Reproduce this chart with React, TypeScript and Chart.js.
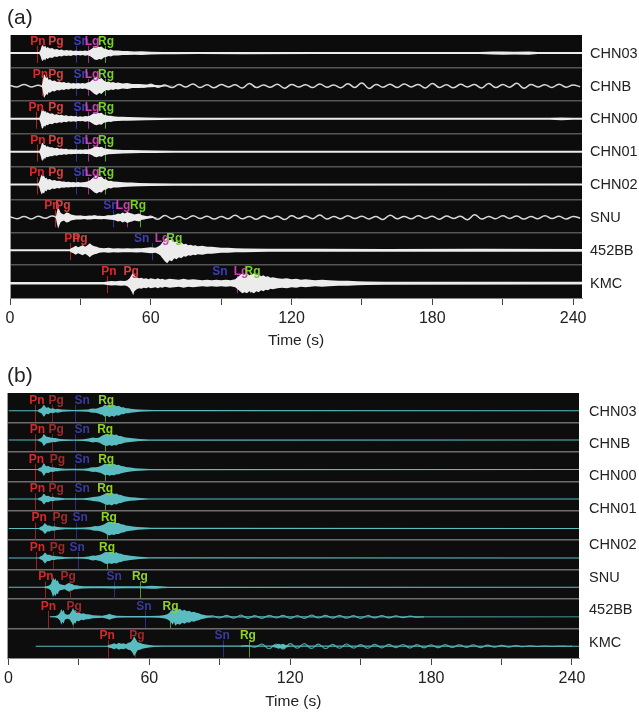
import React, { useEffect, useRef } from 'react';
import { Chart, registerables } from 'chart.js';

Chart.register(...registerables);

type Pair = [number, number];
type Phase = [string, number, number | null];

// ---------- labels & ticks ----------
const STATIONS_A = ['CHN03', 'CHNB', 'CHN00', 'CHN01', 'CHN02', 'SNU', '452BB', 'KMC'];
const STATIONS_B = ['CHN03', 'CHNB', 'CHN00', 'CHN01', 'CHN02', 'SNU', '452BB', 'KMC'];
const LABEL_ROWS_A = [0.57, 1.57, 2.57, 3.57, 4.57, 5.57, 6.57, 7.57];
const LABEL_ROWS_B = [0.65, 1.73, 2.82, 3.95, 5.17, 6.29, 7.38, 8.5];
const TIME_TICKS = [0, 30, 60, 90, 120, 150, 180, 210, 240];
const TIME_LABELS = [0, 60, 120, 180, 240];

// ---------- panel (a): amplitude envelopes [time s, half-amplitude px] ----------
const A_CHN03: Pair[] = [[0,1],[12.5,1],[13,3],[13.5,7],[14,8],[14.5,6],[15,7.5],[15.5,5],[16,6],[17,4.5],[18,5],[19,3.5],[20,4],[21,3],[22,3.5],[23,2.5],[24,3],[25,2.5],[26,2.8],[27,2],[28,2.5],[29,2],[30,2.4],[31,2],[32,2.6],[33,2.2],[34,3],[35,4.5],[36,6.5],[37,7],[38,6],[39,6.5],[40,4.5],[41,4],[42,3],[43,3.5],[44,2.5],[46,2.5],[48,2],[50,2],[53,1.6],[56,1.8],[60,1.4],[65,1.2],[70,1.2],[80,1],[100,1.1],[130,1],[160,1],[200,1],[206,1.5],[210,1.7],[215,1.4],[221,1.6],[225,1],[244,1]];
const A_CHNB: Pair[] = [[0,0],[13.5,0],[14,5],[14.5,12],[15,10],[15.5,8],[16,9],[16.5,6],[17,7],[18,5],[19,5.5],[20,4],[21,4.5],[22,3.5],[23,4],[24,3],[25,3.5],[26,2.5],[27,3],[28,2.5],[29,3],[30,2.5],[31,3],[32,2.5],[33,3.5],[34,4],[35,6],[36,8],[37,9],[38,7],[39,8],[40,5.5],[41,4],[42,4.5],[43,3.5],[44,4],[45,3],[46,3.5],[48,2.5],[50,3],[52,2],[55,2],[58,1.5],[62,1],[66,0.5],[70,0],[244,0]];
const A_CHN00: Pair[] = [[0,1],[12.5,1],[13,4],[13.5,9],[14,10],[14.5,7],[15,8],[15.5,6],[16,6.5],[17,5],[18,5.5],[19,4],[20,4.5],[21,3.5],[22,4],[23,3],[24,3.5],[25,2.5],[26,3],[27,2.5],[28,2.8],[29,2.2],[30,2.5],[31,2.2],[32,2.8],[33,2.5],[34,3],[35,4.5],[36,6],[37,6.5],[38,5.5],[39,6],[40,4],[41,3.5],[42,3],[43,3.2],[44,2.5],[46,2.2],[48,2],[50,1.8],[54,1.6],[58,1.4],[64,1.2],[70,1],[230,1],[235,1.3],[240,1],[244,1]];
const A_CHN01: Pair[] = [[0,1],[12.5,1],[13,3.5],[13.5,8],[14,9],[14.5,6.5],[15,7],[15.5,5],[16,5.5],[17,4.5],[18,4.5],[19,3.5],[20,4],[21,3],[22,3.2],[23,2.6],[24,3],[25,2.2],[26,2.5],[27,2.2],[28,2.4],[29,2],[30,2.2],[31,2],[32,2.4],[33,2.2],[34,2.6],[35,3.5],[36,5],[37,5.5],[38,4.5],[39,5],[40,3.5],[41,3],[42,2.6],[44,2.2],[46,2],[48,1.8],[52,1.6],[56,1.4],[62,1.2],[70,1],[244,1]];
const A_CHN02: Pair[] = [[0,1],[12,1],[12.5,3],[13,7],[13.5,10],[14,8],[14.5,9],[15,6],[15.5,7],[16,5],[17,5.5],[18,4],[19,4.5],[20,3.5],[21,3.8],[22,3],[23,3.2],[24,2.6],[25,2.8],[26,2.4],[27,2.6],[28,2.2],[29,2.5],[30,2.2],[31,2.4],[32,2.6],[33,3],[34,4],[35,6],[36,8],[37,9],[38,7.5],[39,8],[40,5.5],[41,5],[42,3.5],[43,3.8],[44,3],[46,2.8],[48,2.4],[50,2.2],[52,2],[55,1.6],[60,1.3],[70,1.1],[244,1]];
const A_SNU: Pair[] = [[0,0],[19.5,0],[20,6],[20.5,11],[21,8],[21.5,5],[22,4],[23,3],[24,5],[25,4.5],[26,3],[27,2.5],[28,2],[30,2],[32,1.5],[34,2],[36,1.5],[38,1.8],[40,1.5],[42,2],[44,2.5],[45,3],[46,4],[47,3.5],[48,5],[49,4],[50,5.5],[51,4.5],[52,4],[53,3],[54,3.5],[55,4],[56,2.5],[57,2],[58,1.5],[60,0.8],[63,0],[244,0]];
const A_452BB: Pair[] = [[0,1],[25.5,1],[26,2],[27,3],[28,4.5],[29,3],[30,4],[31,5],[32,3.5],[33,5],[34,7],[35,5],[36,4],[37,3.5],[38,2.5],[40,2],[42,2.5],[44,1.8],[46,2.2],[48,1.8],[50,2],[52,1.8],[54,2.2],[56,2],[58,2.5],[60,3],[62,2.5],[63,3.5],[64,5],[65,8],[66,11],[67,13],[68,10],[69,11],[70,8],[71,9],[72,7],[73,8],[74,6],[75,6.5],[76,5],[77,5.5],[78,4.5],[79,5],[80,4],[82,4.5],[84,3.5],[86,3.5],[88,3],[90,2.5],[93,2.5],[96,2],[100,1.8],[110,1.5],[130,1.5],[160,1.4],[200,1.5],[244,1.4]];
const A_KMC: Pair[] = [[0,1.3],[40,1.3],[41.5,1.8],[43,2.2],[45,2],[47,2.5],[49,2.2],[50,3],[51,5],[52,9],[52.5,12],[53,8],[54,6],[55,5],[56,5.5],[57,4.5],[58,5],[59,4],[60,5],[61,4.5],[62,4],[63,5],[64,4],[65,4.5],[66,3.5],[68,4.5],[70,4],[72,3.5],[74,4.5],[76,3.5],[78,4],[80,3.5],[82,3],[84,3.5],[86,3],[88,3.5],[90,3],[92,3.5],[94,3],[96,4],[97,6],[98,8],[99,10],[100,9],[101,10],[102,8],[103,9],[104,10],[105,8],[106,9],[107,7],[108,8],[109,6.5],[110,7],[111,5.5],[112,6],[114,5],[116,4.5],[118,5],[120,4],[122,4.5],[124,3.5],[126,4],[128,3.5],[130,3],[133,3.5],[136,3],[140,2.5],[144,2.5],[148,2],[152,1.7],[160,1.5],[244,1.4]];

// long-period background wiggle (px, up positive), sampled every 3 s from t = 0
const A_CHNB_WIG = [0.5,-1,1.5,-1,0.8,-1.5,1,-0.5,1.2,-1,1,-1.5,1.2,-1,1.5,-1.2,1,-1.5,1.3,-1,1.8,-1.2,1,-1.6,1.4,-1,2,-1.5,1.2,-1.8,1.5,-1,1.2,-2,2.5,-1.5,1,-1.2,1.8,-2.2,1.5,-1,1.3,-1.6,2,-1.2,1,-1.8,2.2,-1.5,3,-2.5,1.5,-1.2,1.8,-1.5,2,-1,1.5,-2,2.5,-1.5,1.2,-1.8,1.6,-1,1.4,-2,2.4,-1.6,1.5,-1.2,2.6,-2.2,1.4,-1,1.2,-1.5,1.8,-1.2,1,-0.8];
const A_SNU_WIG = [0.8,-1.2,1,-1.5,1.2,-0.8,1.5,-1,1.2,-1.5,1,-1.2,1.8,-1,1.4,-1.6,1,-1.3,1.6,-1,1.2,-1.8,2,-1.2,1,-1.5,1.8,-1,1.3,-1.6,1,-1.2,2.2,-1.4,1,-1.8,1.5,-1,1.2,-2,1.6,-1,1.4,-1.2,2.4,-1.6,1,-1.3,1.8,-1.1,1.2,-1.5,1,-2,2.2,-1.2,1,-1.4,1.6,-1,1.3,-1.8,1.5,-1,1.2,-2.2,2.6,-1.5,1,-1.2,1.6,-1,1.4,-1.6,1,-1.3,1.8,-1,1.2,-1.5,1,-0.8];

// phase picks: [phase, label time, pick-line time]
const PHASES_A: Phase[][] = [
  [['Pn',11.9,11.4],['Pg',19.6,null],['Sn',30.3,28.1],['Lg',35,33.2],['Rg',40.9,40.5]],
  [['Pn',13,13.6],['Pg',19.6,null],['Sn',30.3,28.1],['Lg',35,33.2],['Rg',40.9,40.5]],
  [['Pn',11.1,11.2],['Pg',19.6,null],['Sn',30.3,28.1],['Lg',35,33.2],['Rg',40.9,40.5]],
  [['Pn',11.9,11.4],['Pg',19.6,null],['Sn',30.3,28.1],['Lg',35,33.2],['Rg',40.9,40.5]],
  [['Pn',11.5,11.4],['Pg',19.6,null],['Sn',30.3,28.1],['Lg',35,33.2],['Rg',40.9,40.5]],
  [['Pn',17.9,19.2],['Pg',22.6,null],['Sn',43,44],['Lg',48.2,50],['Rg',54.6,55.4]],
  [['Pn',26.4,25.6],['Pg',29.8,null],['Sn',56.1,60.4],['Lg',64.8,66.3],['Rg',70,69]],
  [['Pn',42.2,41.3],['Pg',51.6,52.5],['Sn',89.5,null],['Lg',98.5,96.9],['Rg',103.4,102.3]],
];

// ---------- panel (b): envelopes ----------
const B_R0: Pair[] = [[0,0.5],[12.5,0.5],[13,1.5],[14,2.5],[14.5,4],[15,6],[15.5,5],[16,3],[17,3.5],[18,2],[19,2.5],[20,1.5],[21,2],[22,1.5],[23,1.2],[25,0.8],[28,0.7],[31,0.8],[34,1.2],[35,1.8],[36,2.2],[37,2],[38,2.5],[39,3.5],[40,4],[41,6],[42,5],[43,6.5],[44,5],[45,6],[46,4.5],[47,5],[48,3.5],[49,3.5],[50,2.5],[51,2.5],[52,2],[54,1.5],[56,1.2],[58,0.8],[62,0.6],[244,0.5]];
const B_R1: Pair[] = [[0,0.5],[12.5,0.5],[13,1.2],[14,2],[14.5,3.5],[15,6],[15.5,5],[16,3.5],[17,3],[18,2.5],[19,2],[20,2.2],[21,1.5],[22,1.2],[24,0.8],[28,0.7],[32,0.8],[34,1.5],[35,2],[36,2.5],[37,2],[38,2.2],[39,3],[40,4.5],[41,5.5],[42,6],[43,5],[44,6],[45,5],[46,5.5],[47,4],[48,4],[49,3],[50,2.5],[52,2],[54,1.5],[56,1],[60,0.6],[244,0.5]];
const B_R2: Pair[] = [[0,0.5],[12.5,0.5],[13,1.5],[14,2.2],[14.5,4],[15,6.5],[15.5,5],[16,3.2],[17,3.5],[18,2.2],[19,2.4],[20,1.8],[21,1.6],[22,1.3],[24,0.9],[28,0.7],[32,0.9],[34,1.4],[35,2],[36,2.4],[37,2.2],[38,2.6],[39,3.2],[40,4.2],[41,5.8],[42,5.2],[43,6.2],[44,5.4],[45,5.8],[46,4.6],[47,4.8],[48,3.6],[49,3.2],[50,2.6],[52,2],[54,1.4],[56,1.1],[60,0.6],[244,0.5]];
const B_R3: Pair[] = [[0,0.5],[12.5,0.5],[13,1.2],[14,2],[14.5,3.5],[15,5.5],[15.5,4.5],[16,3],[17,3.2],[18,2],[19,2.2],[20,1.6],[21,1.5],[22,1.2],[24,0.8],[28,0.7],[32,0.8],[34,1.2],[35,1.6],[36,2],[37,2.2],[38,2.4],[39,3],[40,4],[41,5],[42,6],[43,5.5],[44,6.5],[45,5],[46,5.5],[47,4.2],[48,4],[49,3],[50,2.6],[52,1.8],[54,1.4],[56,1],[60,0.6],[244,0.5]];
const B_R4: Pair[] = [[0,0.5],[13,0.5],[13.5,1.5],[14.5,2.5],[15,4],[15.5,5.5],[16,4.5],[16.5,3],[17.5,3],[18.5,2],[19.5,2.2],[20.5,1.6],[22,1.3],[24,0.9],[28,0.7],[32,0.9],[35,1.4],[36,2],[37,2.4],[38,2.2],[39,2.8],[40,3.5],[41,4.5],[42,6],[43,7],[44,6],[45,6.5],[46,5.5],[47,5.5],[48,4.2],[49,4],[50,3],[51,2.6],[53,2],[55,1.4],[57,1.1],[61,0.6],[244,0.5]];
const B_R5: Pair[] = [[0,0.5],[13,0.5],[13.5,1.4],[14.5,2.4],[15,4],[15.5,5.5],[16,4.5],[16.5,3.2],[17.5,3.2],[18.5,2.2],[19.5,2],[20.5,1.7],[22,1.3],[24,0.9],[28,0.7],[32,0.9],[34,1.4],[35,2],[36,2.5],[37,2.2],[38,2.6],[39,3.2],[40,4.2],[41,5.6],[42,6],[43,5.4],[44,6.2],[45,5.2],[46,5.6],[47,4.4],[48,4.2],[49,3.2],[50,2.8],[52,2.2],[54,1.6],[56,1.2],[60,0.6],[244,0.5]];
const B_SNU: Pair[] = [[0,0.5],[15,0.5],[16,1],[17,1.5],[18,3],[18.5,6],[19,10],[19.5,7],[20,9],[20.5,6],[21,7],[21.5,4],[22,3],[23,2.5],[24,2],[25,3.5],[26,4.5],[26.5,3],[27,3.5],[28,2],[29,2],[30,1.5],[32,1.2],[35,1],[40,1],[45,1.2],[50,1],[55,1],[58,1.2],[61,1.5],[63,1.3],[65,1],[68,0.6],[244,0.5]];
const B_452BB: Pair[] = [[17.5,0.5],[20,0.8],[21,1.5],[22,4],[22.5,8],[23,5],[23.5,7],[24,3],[25,2],[26,2.5],[27,6],[27.5,9],[28,6],[28.5,7],[29,4],[30,4.5],[31,3],[32,3.5],[33,2.5],[34,2.5],[35,2],[36,1.5],[38,1.2],[40,1],[42,2],[43,3],[44,2],[46,1],[50,0.8],[55,0.8],[60,0.8],[64,1],[66,1.5],[67,2],[68,3],[69,5],[70,8],[70.5,5],[71,9],[72,7],[73,8],[74,6],[75,7],[76,5.5],[77,6],[78,4.5],[79,5],[80,4],[81,3.5],[82,2.5],[83,2],[85,1],[87,0.6],[244,0.4]];
const B_KMC: Pair[] = [[11.5,0.5],[42,0.5],[43,1.5],[44,2],[45,3],[46,2],[47,3.5],[48,2.5],[49,3],[50,2],[51,3.5],[52,4],[53,7],[53.5,10],[54,8],[54.5,6],[55,4],[56,3.5],[57,2.5],[58,2],[60,1.2],[62,0.8],[66,0.6],[112,0.6],[114,1.5],[115,2.5],[116,1.8],[117,2.5],[118,1.2],[120,0.6],[244,0.5]];

const B_452BB_WIG = [0,1,-1.2,1.5,-1.3,1.6,-1.5,1.2,-1.6,1.5,-1.2,1.4,-1.6,1.3,-1.5,1.6,-1.2,1.4,-1.3,1.5,-1.4,1.2,-1.5,1.3,-1.1,1.2,-1,0.9,-0.8,0.6,-0.4,0];
const B_KMC_WIG = [0,0.5,-1,2,-2.5,2.2,-2.8,2.5,-2,2.6,-2.2,2,-2.5,1.8,-2,2.2,-1.8,1.6,-2,1.8,-1.6,1.8,-1.5,1.7,-1.8,1.5,-1.6,1.4,-1.5,1.6,-1.3,1.4,-1.2,1.3,-1.4,1.1,-1,0.9,-0.8,0.6,-0.5,0.4,-0.3,0.2,-0.2,0.1,0,0];

const PHASES_B: Phase[][] = [
  [['Pn',12.1,11.5],['Pg',20.3,18.7],['Sn',31.4,28.4],['Rg',41.6,41.2]],
  [['Pn',12.3,11.5],['Pg',20.3,18.7],['Sn',31.4,28.4],['Rg',41.2,41.2]],
  [['Pn',11.9,11.5],['Pg',20.8,18.7],['Sn',31.4,28.4],['Rg',41.6,41.2]],
  [['Pn',12.3,11.5],['Pg',20.3,18.7],['Sn',31.4,28.4],['Rg',41.2,41.2]],
  [['Pn',13.1,11.5],['Pg',22,19.5],['Sn',30.5,28.8],['Rg',42.8,42]],
  [['Pn',12.3,11.8],['Pg',20.8,19],['Sn',29.3,29.7],['Rg',42,42]],
  [['Pn',16,15.7],['Pg',25.4,26],['Sn',45,45],['Rg',56,56]],
  [['Pn',17,17],['Pg',28,27.5],['Sn',57.7,58],['Rg',69,69]],
  [['Pn',42,42.4],['Pg',54.7,54],['Sn',91,91.5],['Rg',102,102.6]],
];

const SANS = '"Liberation Sans", Arial, sans-serif';

interface Wig { row: number; t0: number; step: number; v: number[] }
interface PanelCfg {
  env: Pair[][];
  wig: Wig[];
  phases: Phase[][];
  labels: string[];
  labelRows: number[];
  rows: number;
  rowPx: number;
  traceOffset: number;
  xMin: number;
  xMax: number;
  padLeft: number;
  padTop: number;
  rightW: number;
  labelPad: number;
  xAxisH: number;
  tickPad: number;
  titlePadBottom: number;
  fill: string;
  wigColor: string;
  wigWidth: number;
  sep: string;
  bg: string;
  textColors: Record<string, string>;
  pickColors: Record<string, string>;
  phaseFont: string;
  labelLevel: number;
  pickTop: number;
  pickBottom: number;
  panel: string;
  panelY: number;
}

function makeChart(canvas: HTMLCanvasElement, c: PanelCfg) {
  const datasets: any[] = [];
  c.env.forEach((env, row) => {
    const base = row + 0.5 + c.traceOffset;
    datasets.push({
      data: env.map(([t, a]) => ({ x: t, y: base - a / c.rowPx })),
      borderColor: 'rgba(0,0,0,0)', backgroundColor: c.fill, borderWidth: 0,
      pointRadius: 0, fill: false, tension: 0,
    });
    datasets.push({
      data: env.map(([t, a]) => ({ x: t, y: base + a / c.rowPx })),
      borderColor: 'rgba(0,0,0,0)', backgroundColor: c.fill, borderWidth: 0,
      pointRadius: 0, fill: '-1', tension: 0,
    });
  });
  c.wig.forEach((w) => {
    const base = w.row + 0.5 + c.traceOffset;
    datasets.push({
      data: w.v.map((v, i) => ({ x: w.t0 + i * w.step, y: base - v / c.rowPx })),
      borderColor: c.wigColor, borderWidth: c.wigWidth, pointRadius: 0,
      fill: false, tension: 0.45,
    });
  });

  const plugin = {
    id: 'seis' + c.panel,
    beforeDraw(chart: any) {
      const { ctx, chartArea: a } = chart;
      ctx.save();
      ctx.fillStyle = c.bg;
      ctx.fillRect(a.left, a.top, a.right - a.left, a.bottom - a.top);
      ctx.restore();
    },
    beforeDatasetsDraw(chart: any) {
      const { ctx, chartArea: a } = chart;
      const xs = chart.scales.x, ys = chart.scales.y;
      ctx.save();
      ctx.beginPath();
      ctx.rect(a.left, a.top, a.right - a.left, a.bottom - a.top);
      ctx.clip();
      ctx.lineWidth = 1;
      c.phases.forEach((row, r) => {
        row.forEach(([ph, , pt]) => {
          if (pt === null) return;
          const x = Math.round(xs.getPixelForValue(pt)) + 0.5;
          ctx.strokeStyle = c.pickColors[ph];
          ctx.beginPath();
          ctx.moveTo(x, ys.getPixelForValue(r + c.pickTop));
          ctx.lineTo(x, ys.getPixelForValue(Math.min(r + c.pickBottom, c.rows)));
          ctx.stroke();
        });
      });
      ctx.restore();
    },
    afterDatasetsDraw(chart: any) {
      const { ctx } = chart;
      const xs = chart.scales.x, ys = chart.scales.y;
      ctx.save();
      ctx.font = c.phaseFont;
      ctx.textAlign = 'center';
      ctx.textBaseline = 'middle';
      c.phases.forEach((row, r) => {
        row.forEach(([ph, lt]) => {
          ctx.fillStyle = c.textColors[ph];
          ctx.fillText(ph, xs.getPixelForValue(lt), ys.getPixelForValue(r + c.labelLevel));
        });
      });
      ctx.restore();
    },
    afterDraw(chart: any) {
      const { ctx } = chart;
      ctx.save();
      ctx.font = '21px ' + SANS;
      ctx.fillStyle = '#222';
      ctx.textAlign = 'left';
      ctx.textBaseline = 'middle';
      ctx.fillText(c.panel, 7, c.panelY);
      ctx.restore();
    },
  };

  const rowsTicks = Array.from({ length: c.rows + 1 }, (_, i) => i);

  return new Chart(canvas, {
    type: 'line',
    data: { datasets },
    plugins: [plugin],
    options: {
      responsive: false,
      maintainAspectRatio: false,
      animation: false,
      events: [],
      layout: { padding: { left: c.padLeft, top: c.padTop, right: 0, bottom: 0 } },
      plugins: { legend: { display: false }, tooltip: { enabled: false }, title: { display: false } },
      scales: {
        x: {
          type: 'linear',
          min: c.xMin,
          max: c.xMax,
          afterBuildTicks: (s: any) => { s.ticks = TIME_TICKS.map((v) => ({ value: v })); },
          afterFit: (s: any) => { s.height = c.xAxisH; },
          ticks: {
            autoSkip: false, maxRotation: 0, minRotation: 0, padding: c.tickPad,
            color: '#222', font: { family: SANS, size: 16 },
            callback: (v: any) => (TIME_LABELS.includes(Number(v)) ? String(v) : ''),
          },
          grid: { drawOnChartArea: false, drawTicks: true, tickLength: 7, color: '#444', lineWidth: 1 },
          border: { display: true, color: '#888', width: 1 },
          title: {
            display: true, text: 'Time (s)', color: '#222',
            font: { family: SANS, size: 15.5 },
            padding: { top: 0, bottom: c.titlePadBottom },
          },
        },
        y: {
          type: 'linear',
          position: 'left',
          min: 0,
          max: c.rows,
          reverse: true,
          afterBuildTicks: (s: any) => { s.ticks = rowsTicks.map((v) => ({ value: v })); },
          afterFit: (s: any) => { s.width = 0; },
          ticks: { display: false },
          grid: {
            drawTicks: false,
            lineWidth: 1.5,
            color: (ctx: any) => {
              const v = ctx.tick ? ctx.tick.value : 0;
              return v > 0 && v < c.rows ? c.sep : 'rgba(0,0,0,0)';
            },
          },
          border: { display: true, color: '#9a9a9a', width: 1 },
        },
        yLab: {
          type: 'linear',
          position: 'right',
          min: 0,
          max: c.rows,
          reverse: true,
          afterBuildTicks: (s: any) => { s.ticks = c.labelRows.map((v) => ({ value: v })); },
          afterFit: (s: any) => { s.width = c.rightW; },
          ticks: {
            autoSkip: false, padding: c.labelPad, color: '#222',
            font: { family: SANS, size: 14.5 },
            callback: (_v: any, i: number) => c.labels[i],
          },
          grid: { display: false, drawTicks: false },
          border: { display: false },
        },
      },
    } as any,
  });
}

const CFG_A: PanelCfg = {
  env: [A_CHN03, A_CHNB, A_CHN00, A_CHN01, A_CHN02, A_SNU, A_452BB, A_KMC],
  wig: [
    { row: 1, t0: 0, step: 3, v: A_CHNB_WIG },
    { row: 5, t0: 0, step: 3, v: A_SNU_WIG },
  ],
  phases: PHASES_A,
  labels: STATIONS_A,
  labelRows: LABEL_ROWS_A,
  rows: 8,
  rowPx: 32.9,
  traceOffset: 0.05,
  xMin: 0,
  xMax: 243.8,
  padLeft: 10,
  padTop: 35,
  rightW: 57,
  labelPad: 8,
  xAxisH: 57,
  tickPad: 4,
  titlePadBottom: 5,
  fill: '#ececec',
  wigColor: '#d8d8d8',
  wigWidth: 1.5,
  sep: '#555555',
  bg: '#0c0c0c',
  textColors: { Pn: '#e0282a', Pg: '#d8403f', Sn: '#3e3eb6', Lg: '#d03cb4', Rg: '#78d02a' },
  pickColors: { Pn: '#b02224', Pg: '#b02224', Sn: '#34349a', Lg: '#a82a96', Rg: '#52a822' },
  phaseFont: 'bold 12px ' + SANS,
  labelLevel: 0.2,
  pickTop: 0.33,
  pickBottom: 0.85,
  panel: '(a)',
  panelY: 18,
};

const CFG_B: PanelCfg = {
  env: [B_R0, B_R1, B_R2, B_R3, B_R4, B_R5, B_SNU, B_452BB, B_KMC],
  wig: [
    { row: 7, t0: 84, step: 3, v: B_452BB_WIG },
    { row: 8, t0: 99, step: 3, v: B_KMC_WIG },
  ],
  phases: PHASES_B,
  labels: STATIONS_B,
  labelRows: LABEL_ROWS_B,
  rows: 9,
  rowPx: 29.4,
  traceOffset: 0.1,
  xMin: -0.4,
  xMax: 243,
  padLeft: 5,
  padTop: 38,
  rightW: 60,
  labelPad: 10,
  xAxisH: 55,
  tickPad: 4,
  titlePadBottom: 2,
  fill: '#5abcc0',
  wigColor: '#4aa3a6',
  wigWidth: 1.2,
  sep: '#6e6e6e',
  bg: '#0c0d0c',
  textColors: { Pn: '#d8282a', Pg: '#a0292b', Sn: '#3a3aa2', Rg: '#92d222' },
  pickColors: { Pn: '#9a2022', Pg: '#7e2022', Sn: '#2c2c86', Rg: '#54961e' },
  phaseFont: 'bold 12px ' + SANS,
  labelLevel: 0.25,
  pickTop: 0.4,
  pickBottom: 0.98,
  panel: '(b)',
  panelY: 21,
};

export default function App() {
  const refA = useRef<HTMLCanvasElement | null>(null);
  const refB = useRef<HTMLCanvasElement | null>(null);

  useEffect(() => {
    const ca = refA.current ? makeChart(refA.current, CFG_A) : null;
    const cb = refB.current ? makeChart(refB.current, CFG_B) : null;
    return () => {
      if (ca) ca.destroy();
      if (cb) cb.destroy();
    };
  }, []);

  return (
    <div style={{ position: 'absolute', left: 0, top: 0, width: 639, height: 713, background: '#fff', overflow: 'hidden' }}>
      <canvas ref={refA} width={639} height={355} style={{ position: 'absolute', left: 0, top: 0, display: 'block' }} />
      <canvas ref={refB} width={639} height={358} style={{ position: 'absolute', left: 0, top: 355, display: 'block' }} />
    </div>
  );
}
